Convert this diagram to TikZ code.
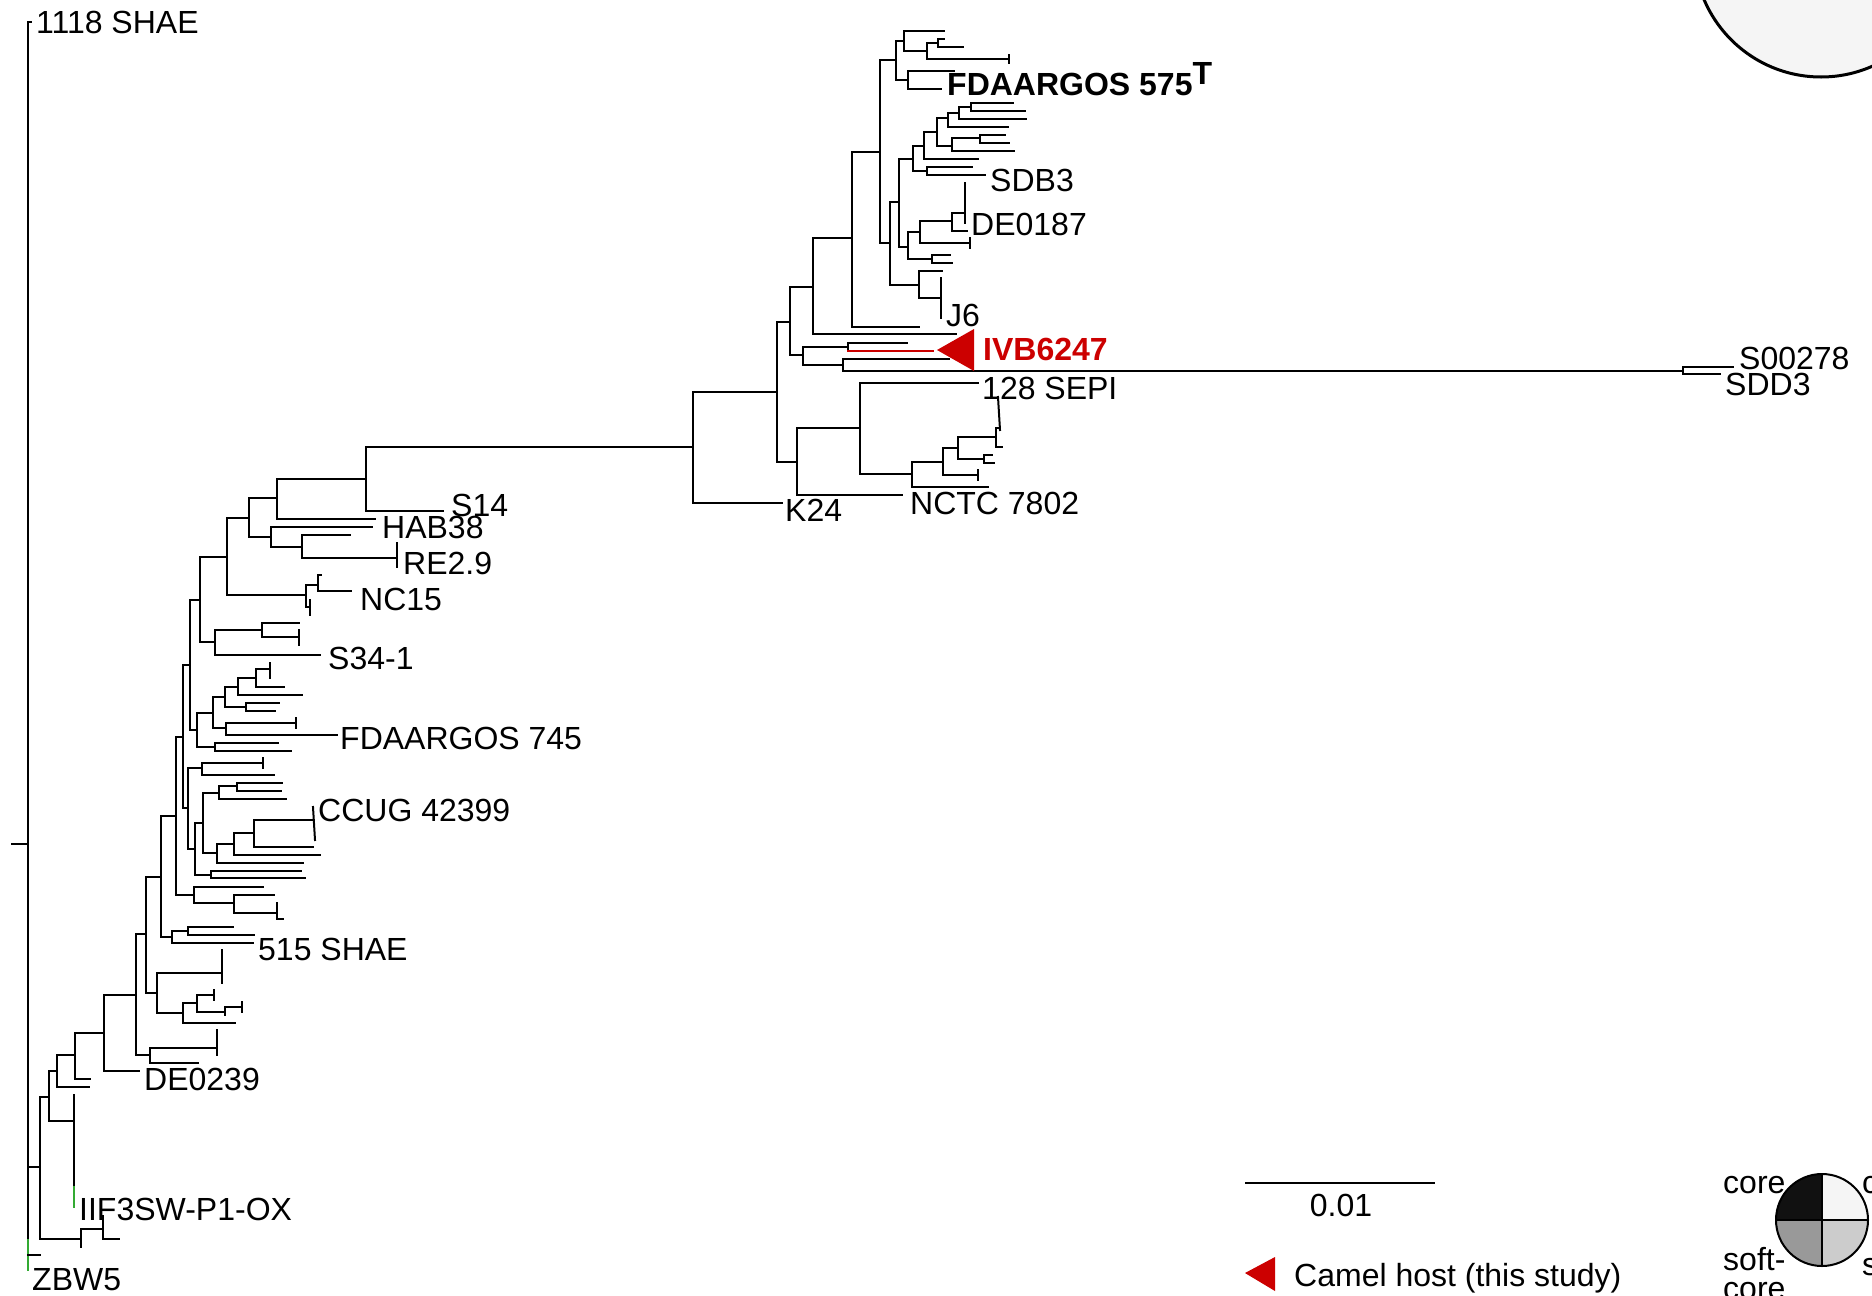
\documentclass[tikz,border=0pt]{standalone}
\usepackage{fontspec}
\setmainfont{Liberation Sans}
\usetikzlibrary{calc}
\definecolor{camred}{HTML}{CC0000}
\definecolor{tipgreen}{HTML}{33AA33}
\definecolor{pieblack}{HTML}{111111}
\definecolor{piewhite}{HTML}{F5F5F5}
\definecolor{piegray}{HTML}{999999}
\definecolor{pielight}{HTML}{CCCCCC}
\newcommand\trH[3]{\draw[br] (#2,#1) -- (#3,#1);}
\newcommand\trV[3]{\draw[br] (#1,#2) -- (#1,#3);}
\begin{document}
\begin{tikzpicture}[x=1pt,y=-1pt,
  br/.style={line width=2pt, line cap=rect},
  lab/.style={anchor=base west, inner sep=0pt, font=\fontsize{32}{37}\selectfont},
  legtxt/.style={inner sep=0pt, font=\fontsize{32}{37}\selectfont}]
\clip (0,0) rectangle (1872,1296);
\fill[white] (0,0) rectangle (1872,1296);

% ---------- root ----------
\trV{28}{22}{1240}
\draw[br, tipgreen] (28,1240) -- (28,1270);
\trH{844}{12}{28}
\trH{22}{28}{31}
\trH{1167}{28}{40}
\trH{1255}{28}{40}

% ---------- basal clades ----------
\trV{40}{1097}{1239}
\trH{1097}{40}{49}
\trV{49}{1071}{1121}
\trH{1071}{49}{57}
\trV{57}{1055}{1087}
\trH{1055}{57}{75}
\trH{1087}{57}{89}
\trV{75}{1033}{1079}
\trH{1033}{75}{104}
\trH{1079}{75}{90}
\trH{1121}{49}{74}
\trV{74}{1095}{1187}
\draw[br, tipgreen] (74,1187) -- (74,1207);
\trH{1239}{40}{81}
\trV{81}{1229}{1247}
\trH{1229}{81}{103}
\trV{103}{1216}{1239}
\trH{1239}{103}{119}

\trV{104}{995}{1071}
\trH{995}{104}{136}
\trH{1071}{104}{139}
\trV{136}{934}{1055}
\trH{934}{136}{146}
\trH{1055}{136}{150}
\trV{150}{1048}{1063}
\trH{1048}{150}{217}
\trV{217}{1030}{1055}
\trH{1063}{150}{198}

\trV{146}{877}{993}
\trH{877}{146}{161}
\trH{993}{146}{157}
\trV{157}{973}{1013}
\trH{973}{157}{222}
\trV{222}{950}{983}
\trH{1013}{157}{183}
\trV{183}{1003}{1023}
\trH{1003}{183}{197}
\trV{197}{995}{1012}
\trH{995}{197}{214}
\trV{214}{990}{1000}
\trH{1012}{197}{225}
\trV{225}{1007}{1015}
\trH{1007}{225}{242}
\trV{242}{1002}{1012}
\trH{1023}{183}{235}

\trV{161}{816}{937}
\trH{816}{161}{176}
\trH{937}{161}{172}
\trV{172}{931}{943}
\trH{931}{172}{188}
\trV{188}{927}{935}
\trH{927}{188}{233}
\trH{935}{188}{254}
\trH{943}{172}{253}

\trV{176}{737}{895}
\trH{737}{176}{183}
\trH{895}{176}{194}
\trV{194}{887}{903}
\trH{887}{194}{263}
\trH{903}{194}{234}
\trV{234}{895}{913}
\trH{895}{234}{274}
\trH{913}{234}{277}
\trV{277}{903}{919}
\trH{919}{277}{283}

\trV{183}{665}{808}
\trH{665}{183}{190}
\trH{808}{183}{188}
\trV{188}{768}{849}
\trH{768}{188}{202}
\trV{202}{763}{775}
\trH{763}{202}{263}
\trV{263}{758}{768}
\trH{775}{202}{274}
\trH{849}{188}{195}
\trV{195}{823}{875}
\trH{823}{195}{203}
\trV{203}{793}{853}
\trH{793}{203}{219}
\trV{219}{786}{799}
\trH{786}{219}{237}
\trV{237}{783}{791}
\trH{783}{237}{282}
\trH{791}{237}{281}
\trH{799}{219}{286}
\trH{853}{203}{217}
\trV{217}{844}{863}
\trH{844}{217}{234}
\trV{234}{833}{855}
\trH{833}{234}{254}
\trV{254}{820}{847}
\trH{820}{254}{314}
\draw[br] (313,807) -- (315,840);
\trH{847}{254}{313}
\trH{855}{234}{320}
\trH{863}{217}{303}
\trH{875}{195}{211}
\trV{211}{871}{878}
\trH{871}{211}{301}
\trH{878}{211}{305}

\trV{190}{600}{730}
\trH{600}{190}{200}
\trH{730}{190}{197}
\trV{197}{713}{747}
\trH{713}{197}{213}
\trV{213}{697}{728}
\trH{697}{213}{225}
\trV{225}{687}{707}
\trH{687}{225}{238}
\trV{238}{678}{695}
\trH{678}{238}{256}
\trV{256}{669}{687}
\trH{669}{256}{270}
\trV{270}{663}{678}
\trH{687}{256}{284}
\trH{695}{238}{302}
\trH{707}{225}{246}
\trV{246}{703}{711}
\trH{703}{246}{279}
\trH{711}{246}{275}
\trH{728}{213}{226}
\trV{226}{723}{735}
\trH{723}{226}{296}
\trV{296}{718}{728}
\trH{735}{226}{337}
\trH{747}{197}{215}
\trV{215}{743}{751}
\trH{743}{215}{278}
\trH{751}{215}{291}

\trV{200}{557}{642}
\trH{557}{200}{227}
\trH{642}{200}{215}
\trV{215}{630}{655}
\trH{630}{215}{262}
\trV{262}{623}{637}
\trH{623}{262}{299}
\trH{637}{262}{299}
\trV{299}{630}{645}
\trH{655}{215}{320}

\trV{227}{518}{595}
\trH{518}{227}{249}
\trH{595}{227}{306}
\trV{306}{585}{607}
\trH{585}{306}{318}
\trV{318}{575}{591}
\trH{575}{318}{321}
\trH{591}{318}{351}
\trH{607}{306}{310}
\trV{310}{600}{615}

\trV{249}{498}{537}
\trH{498}{249}{277}
\trH{537}{249}{271}
\trV{271}{527}{547}
\trH{527}{271}{372}
\trH{547}{271}{302}
\trV{302}{535}{558}
\trH{535}{302}{350}
\trH{558}{302}{397}
\trV{397}{543}{567}

\trV{277}{479}{519}
\trH{479}{277}{366}
\trH{519}{277}{375}
\trV{366}{447}{511}
\trH{447}{366}{693}
\trH{511}{366}{443}

% ---------- upper clade ----------
\trV{693}{392}{503}
\trH{392}{693}{777}
\trH{503}{693}{782}
\trV{777}{322}{462}
\trH{322}{777}{790}
\trH{462}{777}{797}

\trV{797}{428}{495}
\trH{428}{797}{860}
\trH{495}{797}{902}
\trV{860}{383}{474}
\trH{383}{860}{978}
\trH{474}{860}{912}
\trV{912}{462}{487}
\trH{462}{912}{943}
\trH{487}{912}{988}
\trV{943}{448}{475}
\trH{448}{943}{958}
\trH{475}{943}{978}
\trV{978}{470}{480}
\trV{958}{437}{459}
\trH{437}{958}{996}
\trH{459}{958}{984}
\trV{984}{455}{463}
\trH{455}{984}{992}
\trH{463}{984}{994}
\trV{996}{428}{447}
\trH{447}{996}{1002}
\trH{428}{996}{999}
\draw[br] (998,397) -- (1000,430);

\trV{790}{287}{355}
\trH{287}{790}{813}
\trH{355}{790}{803}
\trV{803}{347}{365}
\trH{347}{803}{848}
\trV{848}{343}{351}
\trH{343}{848}{907}
\draw[br, camred] (848,351) -- (933,351);
\trH{365}{803}{843}
\trV{843}{359}{371}
\trH{359}{843}{949}
\trH{371}{843}{1683}
\trV{1683}{367}{374}
\trH{367}{1683}{1733}
\trH{374}{1683}{1720}

\trV{813}{238}{334}
\trH{238}{813}{852}
\trH{334}{813}{956}
\trV{852}{152}{327}
\trH{152}{852}{880}
\trH{327}{852}{919}
\trV{880}{60}{243}
\trH{60}{880}{896}
\trH{243}{880}{890}
\trV{896}{41}{80}
\trH{41}{896}{904}
\trV{904}{31}{51}
\trH{31}{904}{944}
\trH{51}{904}{927}
\trV{927}{43}{59}
\trH{43}{927}{938}
\trV{938}{39}{47}
\trH{39}{938}{944}
\trH{47}{938}{963}
\trH{59}{927}{1009}
\trV{1009}{55}{63}
\trH{80}{896}{908}
\trV{908}{71}{89}
\trH{71}{908}{954}
\trH{89}{908}{941}

\trV{890}{202}{285}
\trH{202}{890}{899}
\trV{899}{159}{247}
\trH{159}{899}{913}
\trV{913}{146}{171}
\trH{146}{913}{924}
\trV{924}{132}{159}
\trH{132}{924}{937}
\trV{937}{118}{146}
\trH{118}{937}{948}
\trV{948}{113}{127}
\trH{113}{948}{959}
\trV{959}{107}{119}
\trH{107}{959}{971}
\trV{971}{103}{111}
\trH{103}{971}{1013}
\trH{111}{971}{1025}
\trH{119}{959}{1026}
\trH{127}{948}{1008}
\trH{146}{937}{952}
\trV{952}{138}{151}
\trH{138}{952}{980}
\trV{980}{135}{143}
\trH{135}{980}{1005}
\trH{143}{980}{1009}
\trH{151}{952}{1014}
\trH{159}{924}{978}
\trH{171}{913}{927}
\trV{927}{167}{175}
\trH{167}{927}{972}
\trH{175}{927}{985}
\trH{247}{899}{908}
\trV{908}{232}{259}
\trH{232}{908}{920}
\trV{920}{221}{243}
\trH{221}{920}{952}
\trV{952}{213}{231}
\trH{213}{952}{965}
\trV{965}{183}{223}
\trH{231}{952}{967}
\trH{243}{920}{970}
\trV{970}{238}{248}
\trH{259}{908}{932}
\trV{932}{255}{263}
\trH{255}{932}{950}
\trH{263}{932}{952}
\trH{285}{890}{919}
\trV{919}{271}{298}
\trH{271}{919}{942}
\trH{298}{919}{941}
\trV{941}{278}{318}

% camel triangle
\fill[camred] (937,350) -- (974,329) -- (974,371) -- cycle;

% ---------- labels ----------
\node[lab] (l1118) at (36,33) {1118 SHAE};
\node[lab, font=\fontsize{32}{37}\selectfont\bfseries] (lfda575) at (947,95) {FDAARGOS 575\raisebox{11pt}{T}};
\node[lab] (lsdb3) at (990,191) {SDB3};
\node[lab] (lde0187) at (971,235) {DE0187};
\node[lab] (lj6) at (946,326) {J6};
\node[lab, text=camred, font=\fontsize{32}{37}\selectfont\bfseries] (livb) at (983,360) {IVB6247};
\node[lab] (ls00278) at (1739,369) {S00278};
\node[lab] (lsdd3) at (1725,395) {SDD3};
\node[lab] (l128) at (982,399) {128 SEPI};
\node[lab] (lnctc) at (910,514) {NCTC 7802};
\node[lab] (lk24) at (785,521) {K24};
\node[lab] (ls14) at (451,516) {S14};
\node[lab] (lhab) at (382,538) {HAB38};
\node[lab] (lre) at (403,574) {RE2.9};
\node[lab] (lnc15) at (360,610) {NC15};
\node[lab] (ls34) at (328,669) {S34-1};
\node[lab] (lfda745) at (340,749) {FDAARGOS 745};
\node[lab] (lccug) at (318,821) {CCUG 42399};
\node[lab] (l515) at (258,960) {515 SHAE};
\node[lab] (lde0239) at (144,1090) {DE0239};
\node[lab] (liif) at (79,1220) {IIF3SW-P1-OX};
\node[lab] (lzbw) at (32,1290) {ZBW5};

% ---------- big circle top right ----------
\draw[line width=3pt, fill=piewhite] (1821,-50) circle[radius=127];

% ---------- scale bar ----------
\coordinate (sbL) at (1245,1183);
\coordinate (sbR) at (1435,1183);
\draw[line width=2pt] (sbL) -- (sbR);
\node[legtxt, anchor=base] (sblab) at (1341,1216) {0.01};

% ---------- camel legend ----------
\fill[camred] (1245,1273) -- (1275,1257) -- (1275,1291) -- cycle;
\node[lab] (camlab) at (1294,1286) {Camel host (this study)};

% ---------- pie legend (y axis points down: 270 = up) ----------
\coordinate (pc) at (1822,1220);
\fill[pieblack] (pc) -- ++(-46,0) arc[start angle=180, end angle=270, radius=46] -- cycle;
\fill[piewhite] (pc) -- ++(0,-46) arc[start angle=270, end angle=360, radius=46] -- cycle;
\fill[piegray] (pc) -- ++(-46,0) arc[start angle=180, end angle=90, radius=46] -- cycle;
\fill[pielight] (pc) -- ++(46,0) arc[start angle=0, end angle=90, radius=46] -- cycle;
\draw[line width=2pt] (pc) circle[radius=46];
\draw[line width=2pt] ($(pc)+(-46,0)$) -- ($(pc)+(46,0)$);
\draw[line width=2pt] ($(pc)+(0,-46)$) -- ($(pc)+(0,46)$);
\node[lab] (lcore) at (1723,1193) {core};
\node[lab] (lcloud) at (1862,1193) {cloud};
\node[lab] (lsoft) at (1723,1270) {soft-};
\node[lab] (lsoft2) at (1723,1299) {core};
\node[lab] (lshell) at (1862,1275) {shell};
\end{tikzpicture}
\end{document}
